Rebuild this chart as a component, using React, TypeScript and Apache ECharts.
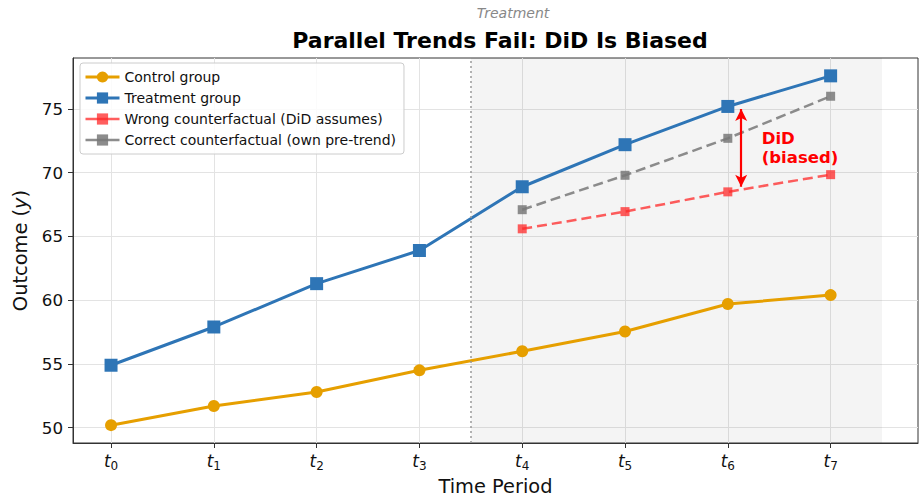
import React, { useEffect, useRef } from "react";
import * as echarts from "echarts";

const periods = [0, 1, 2, 3, 4, 5, 6, 7];
const controlValues = [50.2, 51.7, 52.8, 54.5, 56.0, 57.55, 59.7, 60.4];
const treatmentValues = [54.9, 57.9, 61.3, 63.9, 68.9, 72.2, 75.2, 77.6];
const postPeriods = [4, 5, 6, 7];
const wrongCF = [65.6, 66.95, 68.5, 69.85];
const correctCF = [67.1, 69.8, 72.7, 76.0];
const yTicks = [50, 55, 60, 65, 70, 75];
const treatmentStart = 3.5;
const shadeEnd = 7.5;
const arrowX = 6.13;
const arrowTop = 75.0;
const arrowBottom = 68.9;
const annoPos = [6.33, 71.94];

const FONT = "DejaVu Sans";
const BLUE = "#2e75b6";
const ORANGE = "#e69f00";
const RED = "rgba(255,40,40,0.75)";
const GRAY = "rgba(120,120,120,0.85)";

export default function App() {
  const ref = useRef<HTMLDivElement>(null);
  useEffect(() => {
    if (!ref.current) return;
    const chart = echarts.init(ref.current, null, { renderer: "svg" });
    const pair = (xs: number[], ys: number[]) => xs.map((x, i) => [x, ys[i]]);
    chart.setOption({
      animation: false,
      textStyle: { fontFamily: FONT },
      title: {
        text: "Parallel Trends Fail: DiD Is Biased",
        left: 495,
        textAlign: "center",
        top: 24,
        textStyle: { fontFamily: FONT, fontSize: 22, fontWeight: "bold", color: "#000" },
      },
      graphic: [
        {
          type: "text",
          x: 513,
          y: 13,
          style: {
            text: "Treatment",
            fontFamily: FONT,
            fontSize: 14,
            fontStyle: "italic",
            fill: "#888",
            textAlign: "center",
            textVerticalAlign: "middle",
          },
        },
      ],
      legend: {
        orient: "vertical",
        left: 80,
        top: 63,
        padding: [7, 8, 7, 4],
        itemWidth: 34,
        itemHeight: 14,
        itemGap: 7,
        backgroundColor: "rgba(255,255,255,0.85)",
        borderColor: "#ccc",
        borderWidth: 1,
        borderRadius: 3,
        textStyle: { fontFamily: FONT, fontSize: 14, color: "#111" },
        data: [
          { name: "Control group", lineStyle: { width: 3, color: ORANGE } },
          { name: "Treatment group", lineStyle: { width: 3, color: BLUE } },
          { name: "Wrong counterfactual (DiD assumes)", lineStyle: { width: 2.5, color: RED, type: "solid" } },
          { name: "Correct counterfactual (own pre-trend)", lineStyle: { width: 2.5, color: GRAY, type: "solid" } },
        ],
      },
      grid: {
        left: 73,
        top: 58,
        right: 1,
        bottom: 54,
        show: true,
        borderColor: "#333",
        borderWidth: 1,
        backgroundColor: "transparent",
        containLabel: false,
        outerBoundsMode: "none",
      },
      xAxis: {
        type: "value",
        min: -0.37,
        max: 7.85,
        name: "Time Period",
        nameLocation: "middle",
        nameGap: 31,
        nameTextStyle: { fontFamily: FONT, fontSize: 19.4, color: "#111" },
        axisLine: { show: true, onZero: false, lineStyle: { color: "#333" } },
        axisTick: { show: true, customValues: periods, length: 5, lineStyle: { color: "#333" } },
        axisLabel: {
          customValues: periods,
          margin: 9,
          formatter: (v: number) => `{t|t}{s|${v}}`,
          rich: {
            t: { fontFamily: FONT, fontSize: 17, fontStyle: "italic", color: "#111", verticalAlign: "top", lineHeight: 20 },
            s: { fontFamily: FONT, fontSize: 12, color: "#111", verticalAlign: "bottom", lineHeight: 20 },
          },
        },
        splitLine: { show: true, lineStyle: { color: "#e3e3e3", width: 1 } },
      },
      yAxis: {
        type: "value",
        min: 48.8,
        max: 79.0,
        name: "{n|Outcome (}{i|y}{n|)}",
        nameLocation: "middle",
        nameGap: 43,
        nameRotate: 90,
        nameTextStyle: {
          rich: {
            n: { fontFamily: FONT, fontSize: 19.4, color: "#111" },
            i: { fontFamily: FONT, fontSize: 19.4, fontStyle: "italic", color: "#111" },
          },
        },
        axisLine: { show: true, onZero: false, lineStyle: { color: "#333" } },
        axisTick: { show: true, customValues: yTicks, length: 5, lineStyle: { color: "#333" } },
        axisLabel: { customValues: yTicks, fontFamily: FONT, fontSize: 16.7, color: "#111", margin: 10 },
        splitLine: { show: true, lineStyle: { color: "#e3e3e3", width: 1 } },
      },
      series: [
        {
          name: "shade",
          type: "line",
          data: [],
          silent: true,
          z: 0,
          markArea: {
            silent: true,
            itemStyle: { color: "rgba(0,0,0,0.045)" },
            data: [[{ xAxis: treatmentStart }, { xAxis: shadeEnd }]],
          },
          markLine: {
            silent: true,
            symbol: ["none", "none"],
            label: { show: false },
            lineStyle: { color: "#999", width: 1.5, type: [2, 3] },
            data: [{ xAxis: treatmentStart }],
          },
        },
        {
          name: "Control group",
          type: "line",
          data: pair(periods, controlValues),
          color: ORANGE,
          lineStyle: { width: 3, color: ORANGE },
          symbol: "circle",
          symbolSize: 12,
          itemStyle: { color: ORANGE },
          z: 3,
        },
        {
          name: "Treatment group",
          type: "line",
          data: pair(periods, treatmentValues),
          color: BLUE,
          lineStyle: { width: 3, color: BLUE },
          symbol: "rect",
          symbolSize: 13,
          itemStyle: { color: BLUE },
          z: 4,
        },
        {
          name: "Wrong counterfactual (DiD assumes)",
          type: "line",
          data: pair(postPeriods, wrongCF),
          color: RED,
          lineStyle: { width: 2.5, color: RED, type: [10, 5] },
          symbol: "rect",
          symbolSize: 9,
          itemStyle: { color: RED },
          z: 3,
          markLine: {
            silent: true,
            symbol: ["arrow", "arrow"],
            symbolSize: [9, 12],
            label: { show: false },
            lineStyle: { color: "#ff0000", width: 2.2, type: "solid" },
            data: [[{ coord: [arrowX, arrowTop] }, { coord: [arrowX, arrowBottom] }]],
          },
          markPoint: {
            silent: true,
            symbol: "circle",
            symbolSize: 0,
            data: [{ coord: annoPos }],
            label: {
              show: true,
              formatter: "DiD\n(biased)",
              position: "right",
              distance: 0,
              align: "left",
              fontFamily: FONT,
              fontSize: 16.5,
              fontWeight: "bold",
              color: "#ff0000",
              lineHeight: 19,
            },
          },
        },
        {
          name: "Correct counterfactual (own pre-trend)",
          type: "line",
          data: pair(postPeriods, correctCF),
          color: GRAY,
          lineStyle: { width: 2.5, color: GRAY, type: [10, 5] },
          symbol: "rect",
          symbolSize: 9,
          itemStyle: { color: GRAY },
          z: 3,
        },
      ],
    });
    return () => chart.dispose();
  }, []);
  return (
    <div
      ref={ref}
      style={{ position: "absolute", left: 0, top: 0, width: 919, height: 497, background: "#fff" }}
    />
  );
}
